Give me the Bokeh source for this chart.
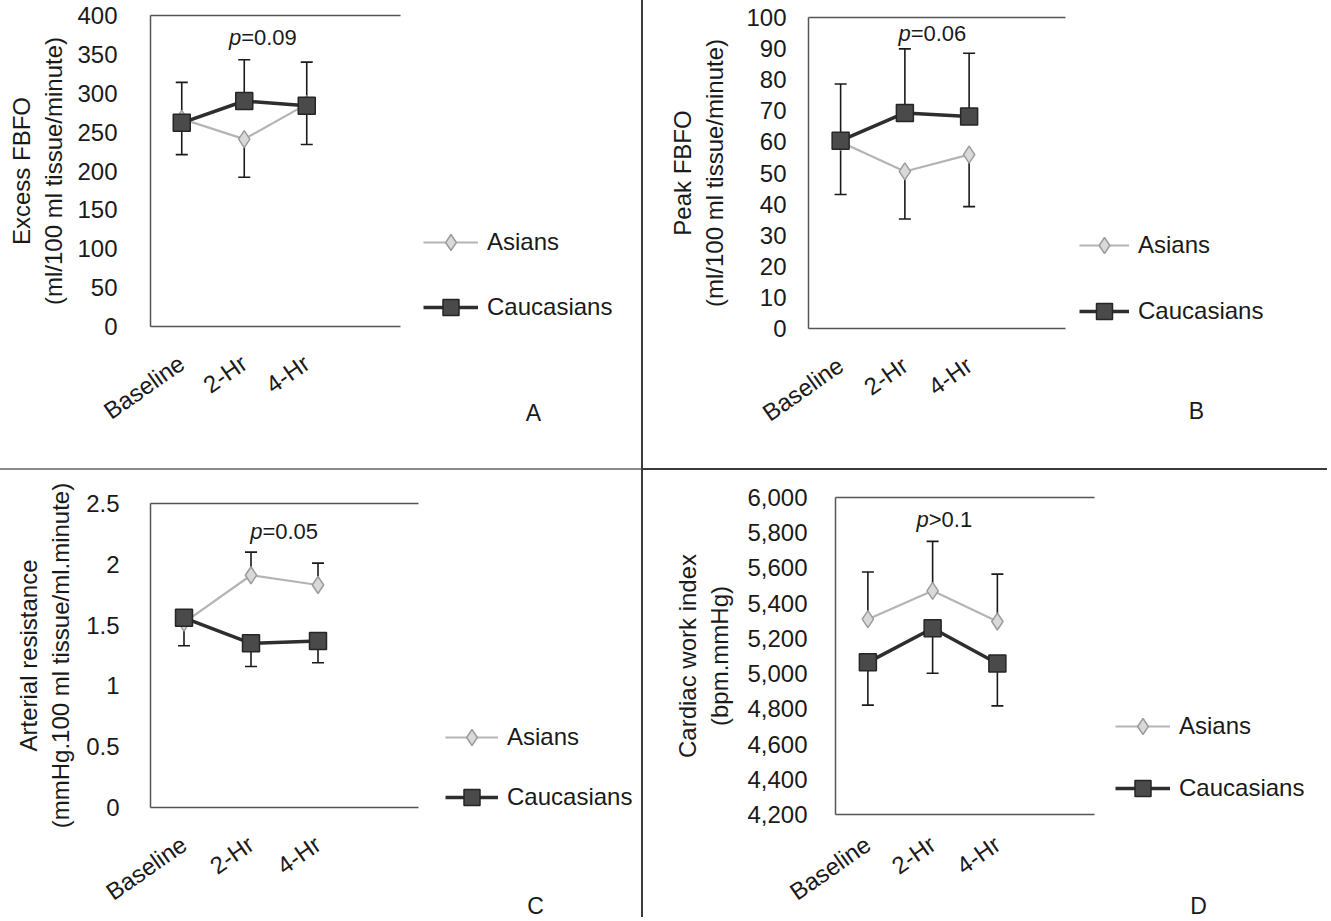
from bokeh.plotting import figure
from bokeh.models import (Range1d, FixedTicker, LinearAxis, Legend, LegendItem, Label,
                          Whisker, TeeHead, ColumnDataSource, NumeralTickFormatter)
from bokeh.layouts import column, row
from bokeh.embed import file_html
from bokeh.resources import INLINE

FONT = "Liberation Sans"
NAN = float("nan")

timepoints = ["Baseline", "2-Hr", "4-Hr"]

# Panel A: Excess FBFO
a_asians = [267, 241, 286]
a_asians_sd = [46, 49, 52]          # shown below the mean
a_caucasians = [262, 290, 284]
a_caucasians_sd = [52, 53, 56]      # shown above the mean
a_ticks = [0, 50, 100, 150, 200, 250, 300, 350, 400]
a_p = "=0.09"

# Panel B: Peak FBFO
b_asians = [60.0, 50.5, 55.9]
b_asians_sd = [16.9, 15.3, 16.7]
b_caucasians = [60.4, 69.3, 68.2]
b_caucasians_sd = [18.2, 20.6, 20.3]
b_ticks = [0, 10, 20, 30, 40, 50, 60, 70, 80, 90, 100]
b_p = "=0.06"

# Panel C: Arterial resistance
c_asians = [1.52, 1.91, 1.83]
c_asians_sd = [0.06, 0.19, 0.18]    # shown above the mean
c_caucasians = [1.56, 1.35, 1.37]
c_caucasians_sd = [0.23, 0.19, 0.18]  # shown below the mean
c_ticks = [0, 0.5, 1, 1.5, 2, 2.5]
c_p = "=0.05"

# Panel D: Cardiac work index
d_asians = [5309, 5470, 5296]
d_asians_sd = [268, 281, 269]
d_caucasians = [5064, 5258, 5057]
d_caucasians_sd = [243, 256, 240]
d_ticks = [4200, 4400, 4600, 4800, 5000, 5200, 5400, 5600, 5800, 6000]
d_p = ">0.1"

series_names = ["Asians", "Caucasians"]

ASIAN_LINE = "#b4b4b4"
ASIAN_FILL = "#d9d9d9"
ASIAN_EDGE = "#9c9c9c"
CAUC_LINE = "#2e2e2e"
CAUC_FILL = "#4a4a4a"
CAUC_EDGE = "#262626"
AXIS_COL = "#555555"
TXT = "#1a1a1a"


def style_asian_line(p, **kw):
    return p.line(line_color=ASIAN_LINE, line_width=2.2, **kw)


def style_asian_pts(p, size=17, **kw):
    return p.scatter(marker="diamond", size=size, fill_color=ASIAN_FILL,
                     line_color=ASIAN_EDGE, line_width=1.5, **kw)


def style_cauc_line(p, **kw):
    return p.line(line_color=CAUC_LINE, line_width=3.5, **kw)


def style_cauc_pts(p, size=17, **kw):
    return p.scatter(marker="square", size=size, fill_color=CAUC_FILL,
                     line_color=CAUC_EDGE, line_width=1.5, **kw)


def chart(width, height, mb_left, mb_right, mb_top, mb_bottom, yr, ticks, fmt,
          ylabel, asians, asians_sd, cauc, cauc_sd, asian_up,
          p_x, p_y, p_text, tick_standoff, title_standoff, x_standoff, styles=None):
    p = figure(width=width, height=height, output_backend="svg", toolbar_location=None,
               x_range=Range1d(-0.5, 3.5), y_range=Range1d(*yr),
               min_border_left=mb_left, min_border_right=mb_right,
               min_border_top=mb_top, min_border_bottom=mb_bottom,
               x_axis_location=None, y_axis_location=None, frame_align=False)
    if styles:
        p.styles = styles
    p.outline_line_color = None
    p.grid.visible = False
    p.background_fill_color = "white"
    p.border_fill_color = "white"

    xs = list(range(len(timepoints)))

    yaxis = LinearAxis(ticker=FixedTicker(ticks=ticks), axis_label=ylabel)
    if fmt:
        yaxis.formatter = NumeralTickFormatter(format=fmt)
    yaxis.axis_line_color = AXIS_COL
    yaxis.axis_line_width = 1.5
    yaxis.major_tick_line_color = None
    yaxis.minor_tick_line_color = None
    yaxis.major_label_standoff = tick_standoff
    yaxis.major_label_text_font = FONT
    yaxis.major_label_text_font_size = "24px"
    yaxis.major_label_text_color = TXT
    yaxis.axis_label_text_font = FONT
    yaxis.axis_label_text_font_size = "24px"
    yaxis.axis_label_text_font_style = "normal"
    yaxis.axis_label_text_color = TXT
    yaxis.axis_label_standoff = title_standoff
    p.add_layout(yaxis, "left")

    xaxis = LinearAxis(ticker=FixedTicker(ticks=xs),
                       major_label_overrides={i: t for i, t in enumerate(timepoints)})
    xaxis.axis_line_color = AXIS_COL
    xaxis.axis_line_width = 1.5
    xaxis.major_tick_line_color = None
    xaxis.minor_tick_line_color = None
    xaxis.major_label_orientation = 0.61
    xaxis.major_label_standoff = x_standoff
    xaxis.major_label_text_font = FONT
    xaxis.major_label_text_font_size = "24px"
    xaxis.major_label_text_color = TXT
    p.add_layout(xaxis, "below")

    topaxis = LinearAxis(ticker=FixedTicker(ticks=[]), major_label_standoff=0)
    topaxis.axis_line_color = AXIS_COL
    topaxis.axis_line_width = 1.5
    topaxis.major_tick_line_color = None
    topaxis.minor_tick_line_color = None
    p.add_layout(topaxis, "above")

    # error bars (one-sided, as in the figure)
    a_lo = [v if asian_up else v - s for v, s in zip(asians, asians_sd)]
    a_hi = [v + s if asian_up else v for v, s in zip(asians, asians_sd)]
    c_lo = [v - s if asian_up else v for v, s in zip(cauc, cauc_sd)]
    c_hi = [v if asian_up else v + s for v, s in zip(cauc, cauc_sd)]
    for lo, hi, up in ((a_lo, a_hi, asian_up), (c_lo, c_hi, not asian_up)):
        src = ColumnDataSource(dict(x=xs, lo=lo, hi=hi))
        head = TeeHead(size=12, line_color=TXT, line_width=1.6)
        w = Whisker(source=src, base="x", lower="lo", upper="hi",
                    line_color=TXT, line_width=1.6,
                    upper_head=head if up else None,
                    lower_head=None if up else head, level="underlay")
        p.add_layout(w)

    src_a = ColumnDataSource(dict(x=xs, y=asians))
    src_c = ColumnDataSource(dict(x=xs, y=cauc))
    style_asian_line(p, x="x", y="y", source=src_a)
    style_asian_pts(p, x="x", y="y", source=src_a)
    style_cauc_line(p, x="x", y="y", source=src_c)
    style_cauc_pts(p, x="x", y="y", source=src_c)

    p.add_layout(Label(x=p_x, y=p_y, text="p", text_align="right", text_baseline="middle",
                       text_font=FONT, text_font_style="italic", text_font_size="22px",
                       text_color=TXT))
    p.add_layout(Label(x=p_x, y=p_y, text=p_text, text_align="left", text_baseline="middle",
                       text_font=FONT, text_font_size="22px", text_color=TXT))
    return p


def legend_box(width, height, x0, y0, leg_xy, glyph_w, spacing, letter, letter_xy,
               styles=None):
    # Figure holding the key and the panel letter; its ranges are in pixels of the page.
    lf = figure(width=width, height=height, output_backend="svg", toolbar_location=None,
                x_range=Range1d(x0, x0 + width), y_range=Range1d(y0 + height, y0),
                min_border=0, x_axis_location=None, y_axis_location=None,
                frame_align=False)
    if styles:
        lf.styles = styles
    lf.outline_line_color = None
    lf.grid.visible = False
    lf.background_fill_color = "white"
    lf.border_fill_color = "white"
    # key-only renderers (no visible points)
    la = style_asian_line(lf, x=[NAN], y=[NAN])
    sa = style_asian_pts(lf, x=[NAN], y=[NAN])
    lc = style_cauc_line(lf, x=[NAN], y=[NAN])
    sc = style_cauc_pts(lf, x=[NAN], y=[NAN])
    legend = Legend(items=[LegendItem(label=series_names[0], renderers=[la, sa]),
                           LegendItem(label=series_names[1], renderers=[lc, sc])],
                    location=leg_xy, orientation="vertical",
                    glyph_width=glyph_w, glyph_height=40, label_height=40,
                    spacing=spacing, padding=0, margin=0, label_standoff=9,
                    border_line_color=None, background_fill_alpha=0,
                    label_text_font=FONT, label_text_font_size="24px",
                    label_text_color=TXT)
    lf.add_layout(legend)
    lf.add_layout(Label(x=letter_xy[0], y=letter_xy[1], text=letter, text_align="center",
                        text_baseline="middle", text_font=FONT, text_font_size="23px",
                        text_color=TXT))
    return lf


pA = chart(410, 468, 150, 10, 15, 142, (0, 400), a_ticks, None,
           "Excess FBFO\n(ml/100 ml tissue/minute)",
           a_asians, a_asians_sd, a_caucasians, a_caucasians_sd, False,
           0.95, 372, a_p, 27, 7, 28)
lA = legend_box(231, 468, 410, 0, (13, 141), 55, 25, "A", (533, 412))

pB = chart(432, 468, 165, 10, 17, 140, (0, 100), b_ticks, None,
           "Peak FBFO\n(ml/100 ml tissue/minute)",
           b_asians, b_asians_sd, b_caucasians, b_caucasians_sd, False,
           1.09, 94.8, b_p, 16, 15, 28,
           styles={"border-left": "2px solid #3c3c3c"})
lB = legend_box(254, 468, 1075, 0, (6, 137), 50, 26, "B", (1198, 410))

pC = chart(428, 449, 150, 10, 33, 111, (0, 2.5), c_ticks, "0.[0]",
           "Arterial resistance\n(mmHg.100 ml tissue/ml.minute)",
           c_asians, c_asians_sd, c_caucasians, c_caucasians_sd, True,
           1.17, 2.27, c_p, 25, 9, 28,
           styles={"border-top": "2px solid #8a8a8a"})
lC = legend_box(213, 449, 428, 470, (17, 102), 53, 20, "C", (535, 905),
                styles={"border-top": "2px solid #8a8a8a"})

pD = chart(461, 449, 192, 10, 27, 105, (4200, 6000), d_ticks, "0,0",
           "Cardiac work index\n(bpm.mmHg)",
           d_asians, d_asians_sd, d_caucasians, d_caucasians_sd, True,
           0.94, 5875, d_p, 22, 11, 21,
           styles={"border-top": "2px solid #3c3c3c", "border-left": "2px solid #3c3c3c"})
lD = legend_box(225, 449, 1104, 470, (13, 111), 55, 22, "D", (1200, 905),
                styles={"border-top": "2px solid #3c3c3c"})

layout = column(row(pA, lA, pB, lB), row(pC, lC, pD, lD))

with open("out.html", "w") as f:
    f.write(file_html(layout, INLINE))
